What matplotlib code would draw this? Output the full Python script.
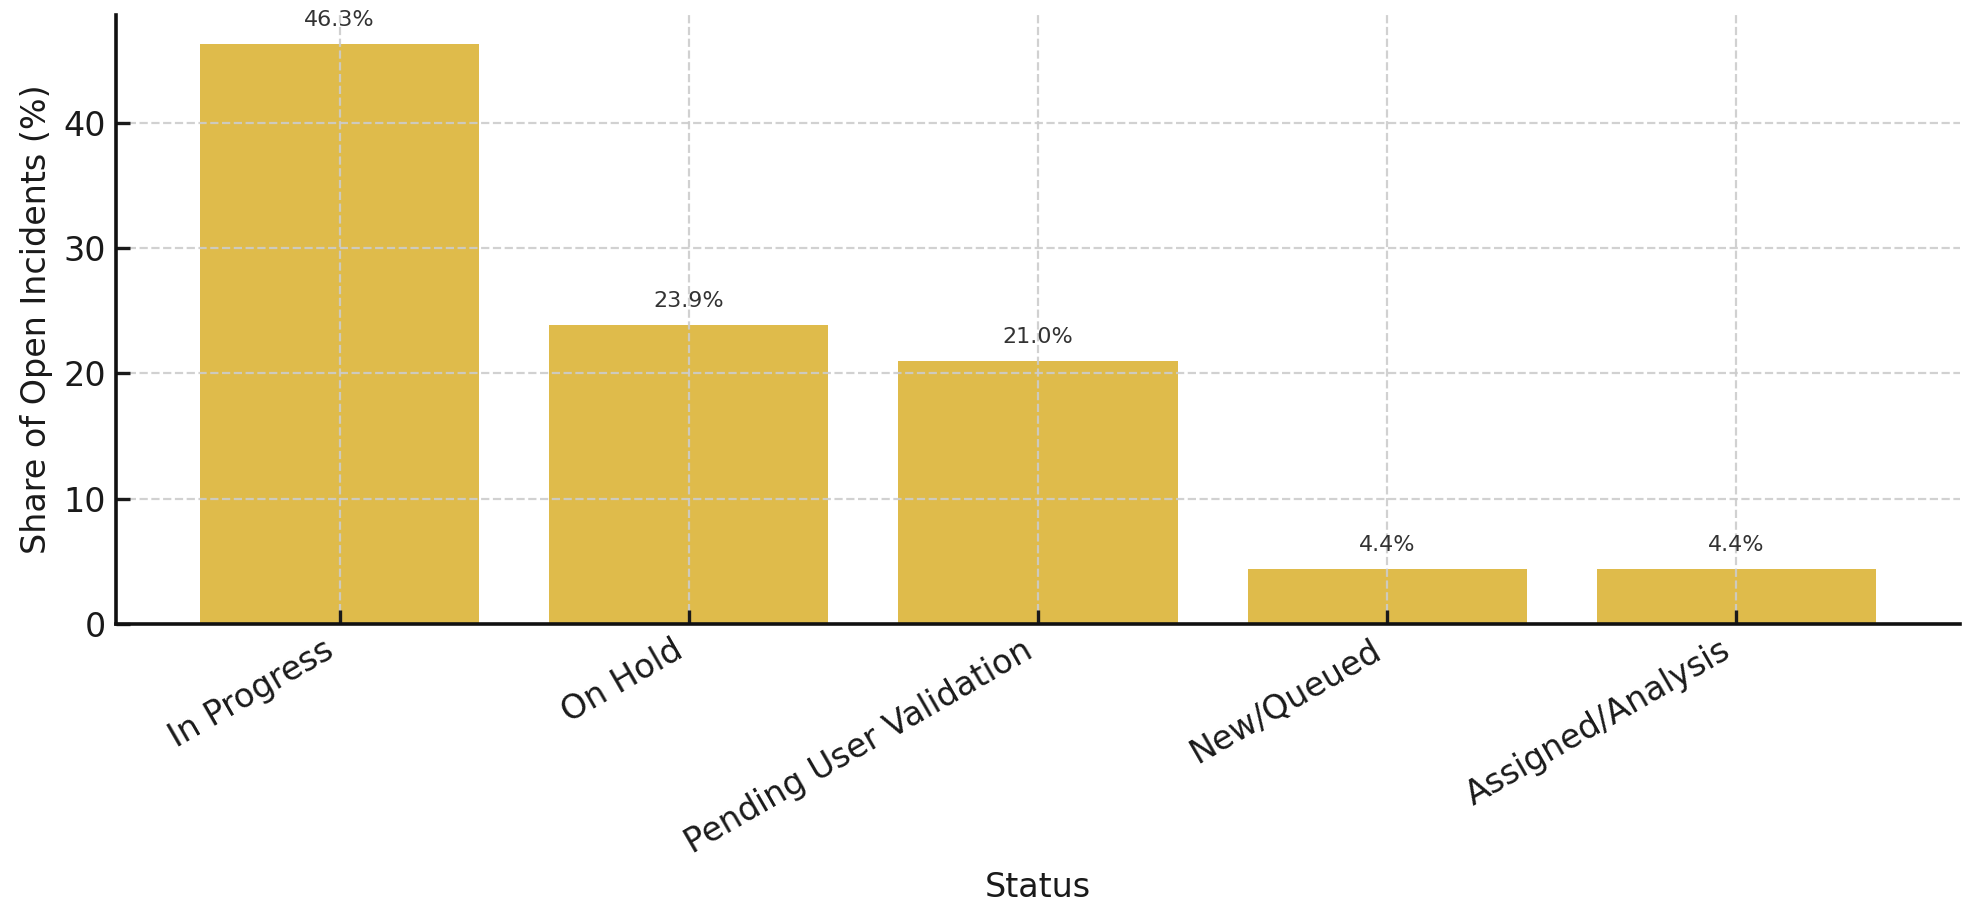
import matplotlib
matplotlib.use("Agg")
import matplotlib.pyplot as plt

categories = ["In Progress", "On Hold", "Pending User Validation", "New/Queued", "Assigned/Analysis"]
shares = [46.3, 23.9, 21.0, 4.4, 4.4]
labels = ["46.3%", "23.9%", "21.0%", "4.4%", "4.4%"]

W, H, DPI = 1979, 924, 200
fig = plt.figure(figsize=(W / DPI, H / DPI), dpi=DPI)
ax = fig.add_axes([116 / W, 1 - 624 / H, (1960 - 116) / W, (624 - 15) / H])

x = list(range(len(categories)))
bars = ax.bar(x, shares, width=0.8, color="#DFBB4B", zorder=2)
ax.set_ylim(0, 48.6)
ax.set_xticks(x)
ax.set_xticklabels(categories, rotation=30, ha="right", fontsize=12)
ax.tick_params(axis="both", direction="in", length=5, width=1.2, labelsize=12, colors="#1a1a1a")
ax.set_yticks([0, 10, 20, 30, 40])
ax.grid(True, linestyle="--", color="#cccccc", linewidth=0.8, alpha=0.9)
ax.set_axisbelow(False)
for s in ["top", "right"]:
    ax.spines[s].set_visible(False)
for s in ["left", "bottom"]:
    ax.spines[s].set_linewidth(1.3)
    ax.spines[s].set_color("#111111")
    ax.spines[s].set_zorder(4)
ax.set_ylabel("Share of Open Incidents (%)", fontsize=12, color="#1a1a1a")
ax.set_xlabel("Status", fontsize=12, color="#1a1a1a")

for xi, v, lab in zip(x, shares, labels):
    ax.annotate(lab, (xi, v), xytext=(0, 5), textcoords="offset points",
                ha="center", va="bottom", fontsize=8, color="#333333")

fig.savefig("out.png", dpi=DPI)
